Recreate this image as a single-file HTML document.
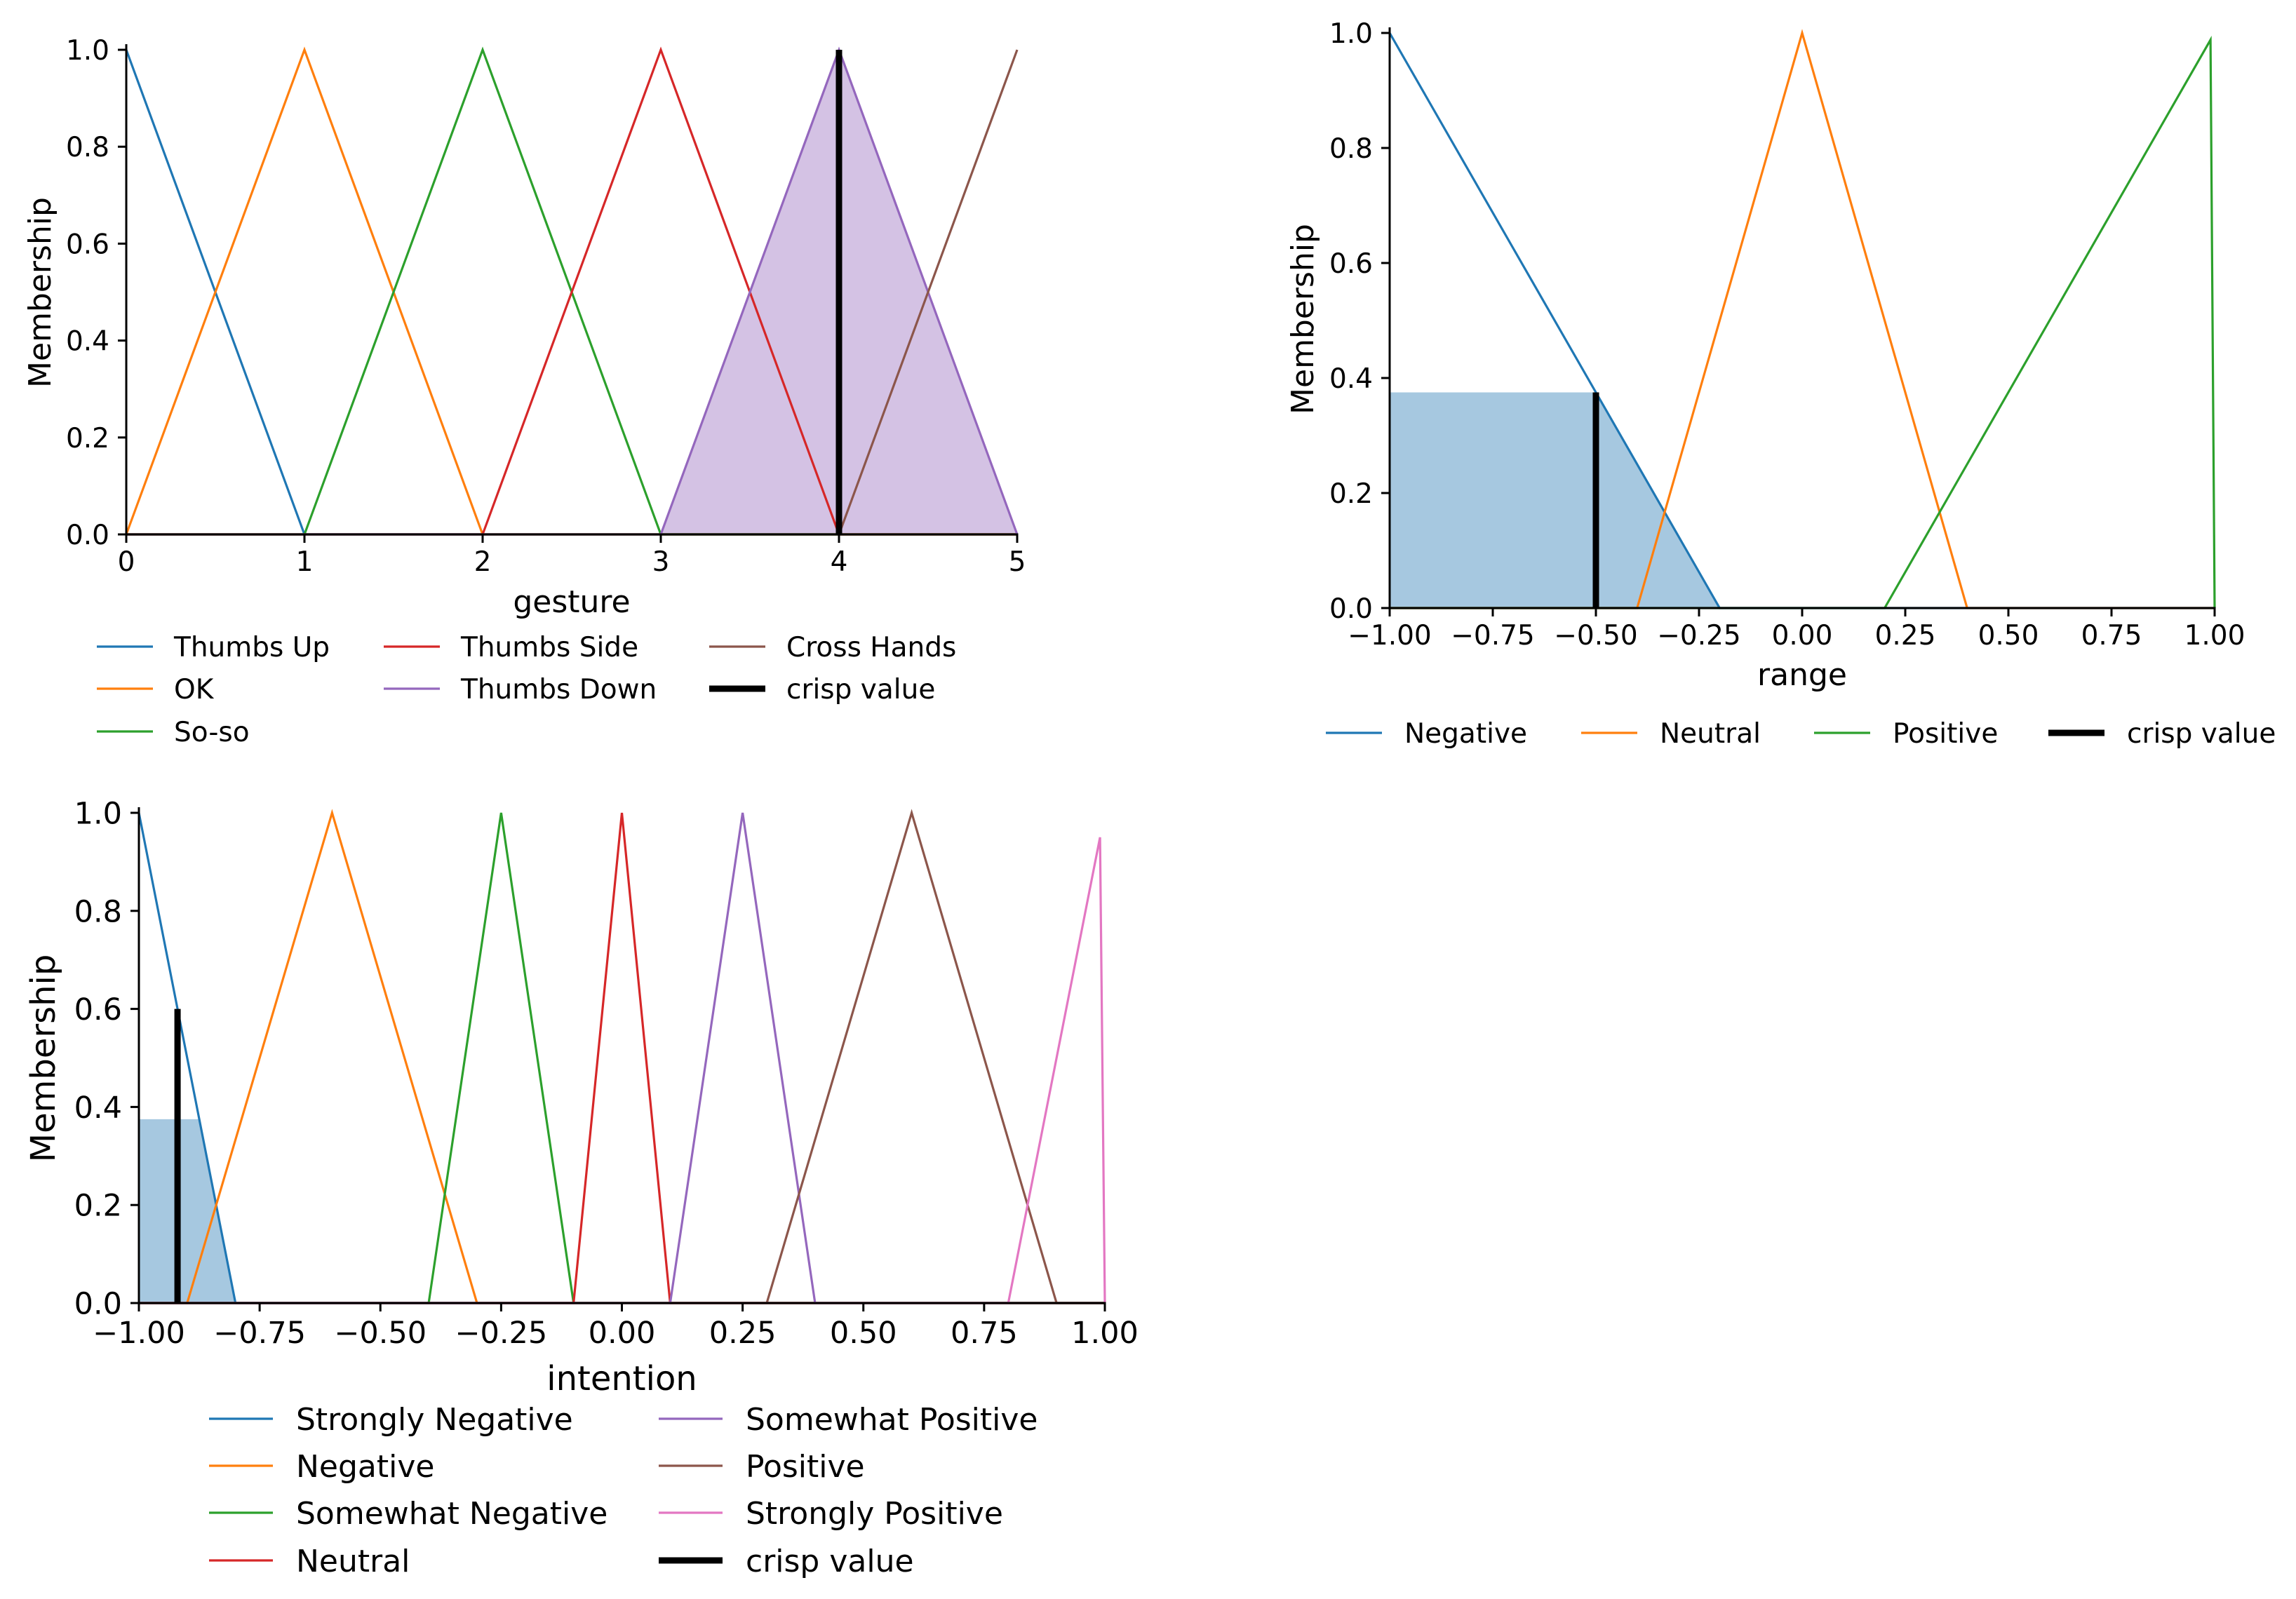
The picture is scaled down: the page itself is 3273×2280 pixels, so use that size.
<!DOCTYPE html>
<html><head><meta charset="utf-8">
<style>
html,body{margin:0;padding:0;background:#fff;}
svg{display:block;}
text{font-family:"DejaVu Sans","Liberation Sans",sans-serif;fill:#000;}
</style></head>
<body>
<svg id="root" width="3273" height="2280" viewBox="0 0 3273 2280" xmlns="http://www.w3.org/2000/svg"></svg>
<script>
// ---------- Chart 1: gesture ----------
const gestureTicks = [0,1,2,3,4,5];
const gestureTickLabels = ["0","1","2","3","4","5"];
const gestureNames = ["Thumbs Up","OK","So-so","Thumbs Side","Thumbs Down","Cross Hands"];
const gestureXs = [[0,0,1,5],[0,1,2,5],[0,1,2,3,5],[0,2,3,4,5],[0,3,4,5],[0,4,5]];
const gestureYs = [[1,1,0,0],[0,1,0,0],[0,0,1,0,0],[0,0,1,0,0],[0,0,1,0],[0,0,1]];
const gestureFillX = [3,4,5];
const gestureFillY = [0,1,0];
const gestureCrisp = 4;
const gestureCrispTop = 1.0;

// ---------- Chart 2: range ----------
const rangeTicks = [-1,-0.75,-0.5,-0.25,0,0.25,0.5,0.75,1];
const rangeTickLabels = ["\u22121.00","\u22120.75","\u22120.50","\u22120.25","0.00","0.25","0.50","0.75","1.00"];
const rangeNames = ["Negative","Neutral","Positive"];
const rangeXs = [[-1,-0.2,1],[-1,-0.4,0,0.4,1],[-1,0.2,0.99,1]];
const rangeYs = [[1,0,0],[0,0,1,0,0],[0,0,0.988,0]];
const rangeFillX = [-1,-0.5,-0.2];
const rangeFillY = [0.375,0.375,0];
const rangeCrisp = -0.5;
const rangeCrispTop = 0.375;

// ---------- Chart 3: intention ----------
const intTicks = [-1,-0.75,-0.5,-0.25,0,0.25,0.5,0.75,1];
const intTickLabels = ["\u22121.00","\u22120.75","\u22120.50","\u22120.25","0.00","0.25","0.50","0.75","1.00"];
const intNames = ["Strongly Negative","Negative","Somewhat Negative","Neutral","Somewhat Positive","Positive","Strongly Positive"];
const intXs = [[-1,-0.8,1],[-1,-0.9,-0.6,-0.3,1],[-1,-0.4,-0.25,-0.1,1],[-1,-0.1,0,0.1,1],[-1,0.1,0.25,0.4,1],[-1,0.3,0.6,0.9,1],[-1,0.8,0.99,1]];
const intYs = [[1,0,0],[0,0,1,0,0],[0,0,1,0,0],[0,0,1,0,0],[0,0,1,0,0],[0,0,1,0,0],[0,0,0.95,0]];
const intFillX = [-1,-0.875,-0.8];
const intFillY = [0.375,0.375,0];
const intCrisp = -0.92;
const intCrispTop = 0.6;

const yTicks = [0,0.2,0.4,0.6,0.8,1.0];
const yTickLabels = ["0.0","0.2","0.4","0.6","0.8","1.0"];
const colors = ["#1f77b4","#ff7f0e","#2ca02c","#d62728","#9467bd","#8c564b","#e377c2"];

const NS = "http://www.w3.org/2000/svg";
const root = document.getElementById('root');
function mk(tag, attrs, parent){ const e=document.createElementNS(NS,tag); for(const k in attrs) e.setAttribute(k,attrs[k]); (parent||root).appendChild(e); return e; }

function drawChart(cfg){
  const g = mk('g',{});
  
  
  const sx = v => cfg.x0 + (v - cfg.xmin)/(cfg.xmax-cfg.xmin)*(cfg.x1-cfg.x0);
  const sy = v => cfg.y0 - v*(cfg.y0-cfg.y1);
  const fp = cfg.fillX.map((x,i)=>sx(x)+','+sy(cfg.fillY[i]));
  fp.push(sx(cfg.fillX[cfg.fillX.length-1])+','+sy(0)); fp.push(sx(cfg.fillX[0])+','+sy(0));
  const fill = mk('polygon',{points:fp.join(' '),fill:cfg.fillColor},g);
  
  
  cfg.xs.forEach((xs,i)=>{
    const pts = xs.map((x,j)=>sx(x)+','+sy(cfg.ys[i][j])).join(' ');
    const pl = mk('polyline',{points:pts,fill:'none',stroke:colors[i],'stroke-width':3.2,'stroke-linejoin':'miter'},g);
    
    
  });
  const cr = mk('line',{x1:sx(cfg.crisp),x2:sx(cfg.crisp),y1:sy(0),y2:sy(cfg.crispTop),stroke:'#000','stroke-width':9},g);
  
  
  const ax = mk('g',{},g);
  
  
  mk('line',{x1:cfg.x0,x2:cfg.x0,y1:cfg.y1-8,y2:cfg.y0+1.5,stroke:'#000','stroke-width':3},ax);
  mk('line',{x1:cfg.x0-1.5,x2:cfg.x1+1.5,y1:cfg.y0,y2:cfg.y0,stroke:'#000','stroke-width':3},ax);
  yTicks.forEach((v,i)=>{
    mk('line',{x1:cfg.x0-12,x2:cfg.x0,y1:sy(v),y2:sy(v),stroke:'#000','stroke-width':3},ax);
    const t = mk('text',{x:cfg.x0-24,y:sy(v)+cfg.tf*0.36,'font-size':cfg.tf,'text-anchor':'end'},ax);
    t.textContent = yTickLabels[i];
    
    
  });
  cfg.ticks.forEach((v,i)=>{
    mk('line',{x1:sx(v),x2:sx(v),y1:cfg.y0,y2:cfg.y0+12,stroke:'#000','stroke-width':3},ax);
    const t = mk('text',{x:sx(v),y:cfg.y0+cfg.tf*1.33,'font-size':cfg.tf,'text-anchor':'middle'},ax);
    t.textContent = cfg.tickLabels[i];
    
    
  });
  const xl = mk('text',{x:(cfg.x0+cfg.x1)/2,y:cfg.xlabY,'font-size':cfg.lf,'text-anchor':'middle'},g);
  xl.textContent = cfg.xlabel;
  
  
  const yl = mk('text',{x:0,y:0,'font-size':cfg.lf,'text-anchor':'middle',transform:`translate(${cfg.ylabX},${cfg.ylabY}) rotate(-90)`},g);
  yl.textContent = 'Membership';
  
  
  const lg = mk('g',{},g);
  
  
  const entries = cfg.names.map((n,i)=>({n,c:colors[i],w:3.2})).concat([{n:'crisp value',c:'#000',w:9}]);
  entries.forEach((e,i)=>{
    const p = cfg.legendPos[i];
    const eg = mk('g',{},lg);
    
    
    mk('line',{x1:p[0],x2:p[0]+cfg.legLen,y1:p[1],y2:p[1],stroke:e.c,'stroke-width':e.w},eg);
    const t = mk('text',{x:p[0]+cfg.legLen+cfg.legGap,y:p[1]+cfg.legf*0.36,'font-size':cfg.legf},eg);
    t.textContent = e.n;
  });
}

drawChart({name:'gesture-chart',x0:180,x1:1450,y0:762,y1:71,xmin:0,xmax:5,ticks:gestureTicks,tickLabels:gestureTickLabels,
  names:gestureNames,xs:gestureXs,ys:gestureYs,fillX:gestureFillX,fillY:gestureFillY,fillColor:'#d4c2e4',
  crisp:gestureCrisp,crispTop:gestureCrispTop,tf:39,lf:44,xlabel:'gesture',xlabY:873,ylabX:72,ylabY:417,
  legLen:80,legGap:30,legf:39,
  legendPos:[[138,922],[138,982],[138,1043],[547,922],[547,982],[1011,922],[1011,982]]});

drawChart({name:'range-chart',x0:1981,x1:3157,y0:867,y1:47,xmin:-1,xmax:1,ticks:rangeTicks,tickLabels:rangeTickLabels,
  names:rangeNames,xs:rangeXs,ys:rangeYs,fillX:rangeFillX,fillY:rangeFillY,fillColor:'#a6c8e0',
  crisp:rangeCrisp,crispTop:rangeCrispTop,tf:39,lf:44,xlabel:'range',xlabY:977,ylabX:1872,ylabY:455,
  legLen:80,legGap:32,legf:39,
  legendPos:[[1890,1045],[2254,1045],[2586,1045],[2920,1045]]});

drawChart({name:'intention-chart',x0:198,x1:1575,y0:1858,y1:1159,xmin:-1,xmax:1,ticks:intTicks,tickLabels:intTickLabels,
  names:intNames,xs:intXs,ys:intYs,fillX:intFillX,fillY:intFillY,fillColor:'#a6c8e0',
  crisp:intCrisp,crispTop:intCrispTop,tf:43,lf:48,xlabel:'intention',xlabY:1982,ylabX:78,ylabY:1509,
  legLen:91,legGap:33,legf:44,
  legendPos:[[298,2023],[298,2090],[298,2157],[298,2225],[939,2023],[939,2090],[939,2157],[939,2225]]});
</script>
</body></html>
